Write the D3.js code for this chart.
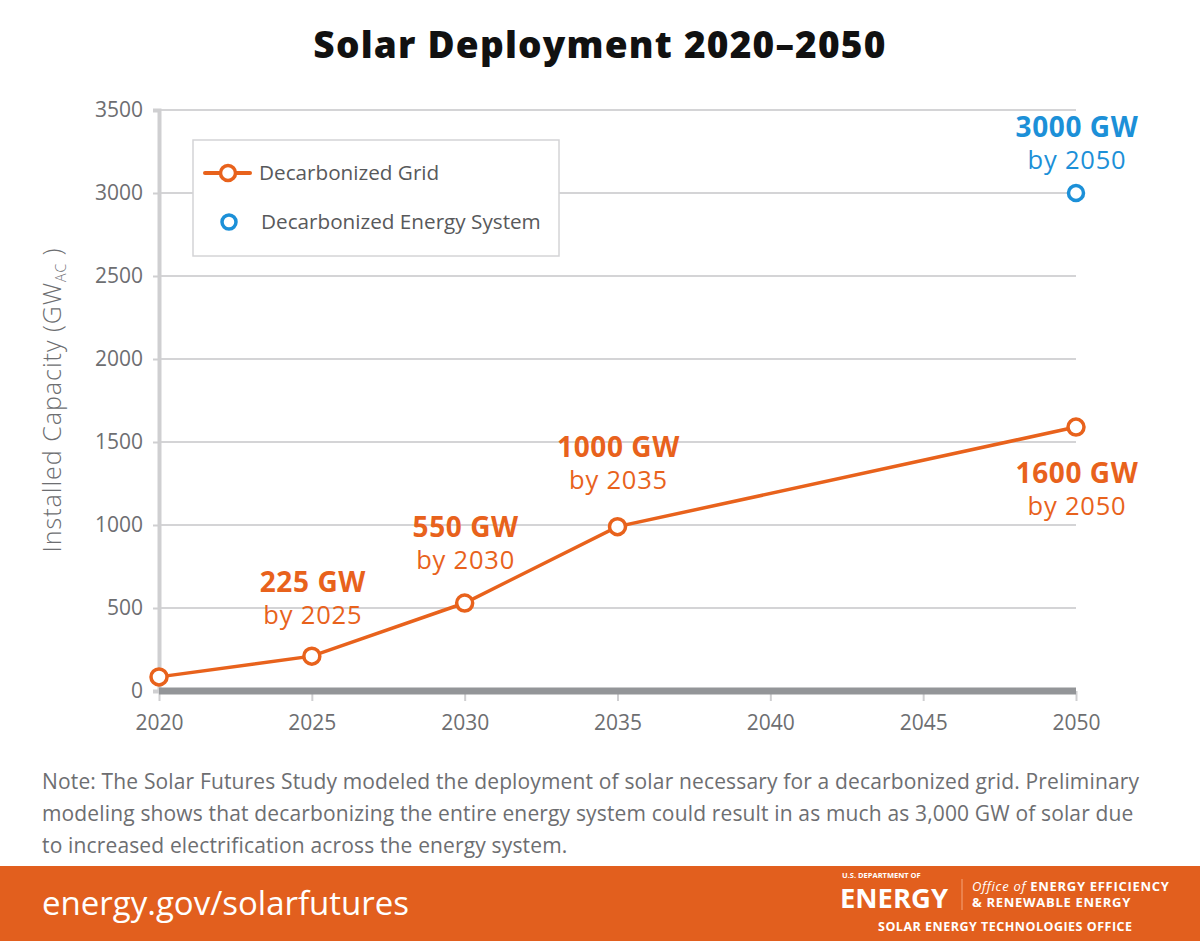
<!DOCTYPE html>
<html>
<head>
<meta charset="utf-8">
<script src="https://cdn.jsdelivr.net/npm/d3@7"></script>
<style>
  html, body { margin: 0; padding: 0; background: #fff; }
  svg { display: block; }
  text { font-family: "Open Sans", "Noto Sans", sans-serif; }
</style>
</head>
<body>
<svg id="chart" width="1200" height="941"></svg>
<script>
// ---- data ----
const years = [2020, 2025, 2030, 2035, 2050];
const gridValues = [85, 210, 530, 990, 1590];
const energyYears = [2050];
const energyValues = [3000];
const xTicks = [2020, 2025, 2030, 2035, 2040, 2045, 2050];
const yTicks = [0, 500, 1000, 1500, 2000, 2500, 3000, 3500];
const gridLabels = [
  { year: 2025, value: 210, big: "225 GW", small: "by 2025" },
  { year: 2030, value: 530, big: "550 GW", small: "by 2030" },
  { year: 2035, value: 990, big: "1000 GW", small: "by 2035" },
  { year: 2050, value: 1590, big: "1600 GW", small: "by 2050" }
];
const energyLabels = [{ year: 2050, value: 3000, big: "3000 GW", small: "by 2050" }];
const legendItems = ["Decarbonized Grid", "Decarbonized Energy System"];
const noteLines = [
  "Note: The Solar Futures Study modeled the deployment of solar necessary for a decarbonized grid. Preliminary",
  "modeling shows that decarbonizing the entire energy system could result in as much as 3,000 GW of solar due",
  "to increased electrification across the energy system."
];

const ORANGE = "#e8621c";
const BLUE = "#1c90d8";
const GRAYTXT = "#6d6e71";

const svg = d3.select("#chart");
const x = d3.scaleLinear().domain([2020, 2050]).range([159, 1076]);
const y = d3.scaleLinear().domain([0, 3500]).range([691, 110]);

// title
svg.append("text").attr("x", 600).attr("y", 58).attr("text-anchor", "middle")
  .attr("font-size", 37).attr("font-weight", 800).attr("fill", "#111")
  .attr("letter-spacing", 1.2)
  .text("Solar Deployment 2020\u20132050");

// gridlines
svg.append("g").selectAll("line").data(yTicks.filter(d => d > 0)).join("line")
  .attr("x1", x(2020)).attr("x2", x(2050))
  .attr("y1", d => y(d)).attr("y2", d => y(d))
  .attr("stroke", "#d4d4d6").attr("stroke-width", 2);

// y axis
const yAxis = svg.append("g").attr("transform", `translate(${x(2020)},0)`)
  .call(d3.axisLeft(y).tickValues(yTicks).tickSize(6).tickPadding(10).tickFormat(d3.format("d")));
yAxis.select(".domain").attr("stroke", "#cfcfd1").attr("stroke-width", 4);
yAxis.selectAll(".tick line").attr("stroke", "#cfcfd1").attr("stroke-width", 2);
yAxis.selectAll(".tick text").attr("font-size", 21).attr("fill", GRAYTXT)
  .attr("font-family", "Lato, 'Open Sans', sans-serif");

// x axis
const xAxis = svg.append("g").attr("transform", `translate(0,${y(0)})`)
  .call(d3.axisBottom(x).tickValues(xTicks).tickSize(10).tickPadding(14).tickFormat(d3.format("d")));
xAxis.select(".domain").remove();
xAxis.selectAll(".tick line").attr("stroke", "#cfcfd1").attr("stroke-width", 2);
xAxis.selectAll(".tick text").attr("font-size", 21).attr("fill", GRAYTXT)
  .attr("font-family", "Lato, 'Open Sans', sans-serif");
svg.append("line").attr("x1", x(2020)).attr("x2", x(2050))
  .attr("y1", y(0)).attr("y2", y(0)).attr("stroke", "#939598").attr("stroke-width", 7);

// y label
const yl = svg.append("text").attr("transform", `translate(61,${400}) rotate(-90)`)
  .attr("text-anchor", "middle").attr("font-size", 25).attr("font-weight", 300).attr("fill", GRAYTXT)
  .attr("letter-spacing", 1.0);
yl.append("tspan").text("Installed Capacity (GW");
yl.append("tspan").attr("font-size", 14).attr("dy", 5).text("AC");
yl.append("tspan").attr("dy", -5).text(" )");

// grid line series
const pts = years.map((yr, i) => [yr, gridValues[i]]);
svg.append("path").datum(pts)
  .attr("fill", "none").attr("stroke", ORANGE).attr("stroke-width", 3.5)
  .attr("d", d3.line().x(d => x(d[0])).y(d => y(d[1])));
svg.append("g").selectAll("circle").data(pts).join("circle")
  .attr("cx", d => x(d[0])).attr("cy", d => y(d[1])).attr("r", 8)
  .attr("fill", "#fff").attr("stroke", ORANGE).attr("stroke-width", 3.5);

// energy system point
svg.append("g").selectAll("circle").data(energyYears.map((yr, i) => [yr, energyValues[i]])).join("circle")
  .attr("cx", d => x(d[0])).attr("cy", d => y(d[1])).attr("r", 7.5)
  .attr("fill", "#fff").attr("stroke", BLUE).attr("stroke-width", 3.5);

// annotations
function annotate(list, color, offs) {
  list.forEach((d, i) => {
    const cx = x(d.year) + 1, cy = y(d.value) + offs[i];
    svg.append("text").attr("x", cx).attr("y", cy).attr("text-anchor", "middle")
      .attr("font-family", "Lato, sans-serif").attr("letter-spacing", 0.6)
      .attr("font-size", 28).attr("font-weight", 700).attr("fill", color).text(d.big);
    svg.append("text").attr("x", cx).attr("y", cy + 32).attr("text-anchor", "middle")
      .attr("font-family", "Lato, sans-serif").attr("letter-spacing", 0.8)
      .attr("font-size", 25.5).attr("font-weight", 500).attr("fill", color).text(d.small);
  });
}
annotate(gridLabels, ORANGE, [-64, -66, -70, 56]);
annotate(energyLabels, BLUE, [-56]);

// legend
const lg = svg.append("g");
lg.append("rect").attr("x", 193).attr("y", 140).attr("width", 366).attr("height", 116)
  .attr("fill", "#fff").attr("stroke", "#d4d4d6").attr("stroke-width", 1.5);
lg.append("line").attr("x1", 205).attr("x2", 250).attr("y1", 173).attr("y2", 173)
  .attr("stroke", ORANGE).attr("stroke-width", 4).attr("stroke-linecap", "round");
lg.append("circle").attr("cx", 228).attr("cy", 173).attr("r", 7.5)
  .attr("fill", "#fff").attr("stroke", ORANGE).attr("stroke-width", 3.5);
lg.append("circle").attr("cx", 229).attr("cy", 222).attr("r", 7)
  .attr("fill", "#fff").attr("stroke", BLUE).attr("stroke-width", 3.5);
lg.append("text").attr("x", 259).attr("y", 180).attr("font-size", 20.7).attr("fill", "#58595b").text(legendItems[0]);
lg.append("text").attr("x", 261).attr("y", 229).attr("font-size", 20.7).attr("fill", "#58595b").text(legendItems[1]);

// note
svg.append("g").selectAll("text").data(noteLines).join("text")
  .attr("x", 42).attr("y", (d, i) => 789 + i * 32)
  .attr("font-size", 21).attr("letter-spacing", 0.15).attr("fill", GRAYTXT).text(d => d);

// footer band
svg.append("rect").attr("x", 0).attr("y", 866).attr("width", 1200).attr("height", 75).attr("fill", "#e25f1e");
svg.append("text").attr("x", 42).attr("y", 915).attr("font-size", 33).attr("font-weight", 500)
  .attr("fill", "#fff").text("energy.gov/solarfutures");

// logo
const LOGOFONT = "Liberation Sans, Arial, sans-serif";
const lo = svg.append("g").attr("fill", "#fff");
lo.append("text").attr("x", 842).attr("y", 878).attr("font-size", 7.5).attr("font-weight", 700)
  .attr("font-family", LOGOFONT).text("U.S. DEPARTMENT OF");
lo.append("text").attr("x", 840).attr("y", 908).attr("font-size", 26).attr("font-weight", 700)
  .attr("font-family", LOGOFONT).attr("textLength", 108).attr("lengthAdjust", "spacingAndGlyphs").text("ENERGY");
lo.append("line").attr("x1", 962).attr("x2", 962).attr("y1", 879).attr("y2", 910)
  .attr("stroke", "#f4a57a").attr("stroke-width", 1);
const l1 = lo.append("text").attr("x", 972).attr("y", 891).attr("font-size", 13).attr("font-weight", 700)
  .attr("font-family", LOGOFONT).attr("letter-spacing", 0.7);
l1.append("tspan").attr("font-style", "italic").attr("font-weight", 400).text("Office of ");
l1.append("tspan").text("ENERGY EFFICIENCY");
lo.append("text").attr("x", 972).attr("y", 907).attr("font-size", 13).attr("font-weight", 700)
  .attr("font-family", LOGOFONT).attr("letter-spacing", 0.7).text("& RENEWABLE ENERGY");
lo.append("text").attr("x", 878).attr("y", 931).attr("font-size", 12.5).attr("font-weight", 700)
  .attr("font-family", LOGOFONT).attr("letter-spacing", 0.5)
  .text("SOLAR ENERGY TECHNOLOGIES OFFICE");
</script>
</body>
</html>
